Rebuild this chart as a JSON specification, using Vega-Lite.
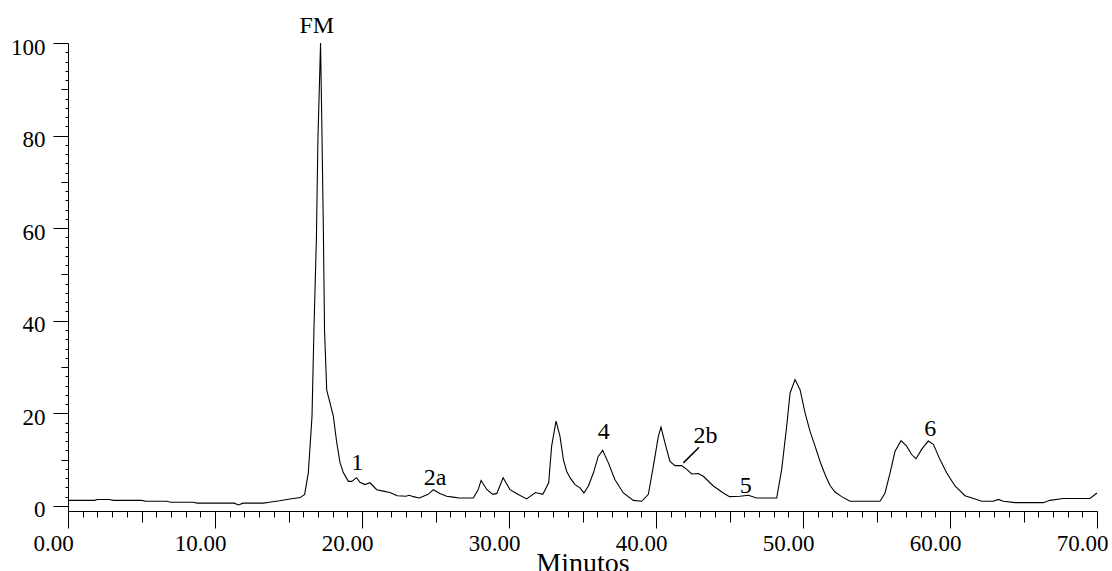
{
  "$schema": "https://vega.github.io/schema/vega-lite/v6.json",
  "width": 1029,
  "height": 468,
  "autosize": {"type": "none"},
  "padding": {"left": 68, "top": 43, "right": 15, "bottom": 60},
  "background": "white",
  "config": {
    "view": {"stroke": null},
    "axis": {
      "domainColor": "black", "tickColor": "black", "labelColor": "black", "titleColor": "black",
      "labelFont": "Liberation Serif", "titleFont": "Liberation Serif",
      "labelFontSize": 23, "titleFontSize": 28, "titleFontWeight": "normal",
      "grid": false, "domainWidth": 1, "tickWidth": 1, "labelFlush": false, "labelOverlap": false
    }
  },
  "datasets": {
    "trace": [
      {"t": 0, "v": 1.2}, {"t": 1.0, "v": 1.2}, {"t": 1.8, "v": 1.2}, {"t": 2.0, "v": 1.4}, {"t": 2.8, "v": 1.4},
      {"t": 3.1, "v": 1.2}, {"t": 5.0, "v": 1.2}, {"t": 5.3, "v": 1.0}, {"t": 6.7, "v": 1.0}, {"t": 7.0, "v": 0.8},
      {"t": 8.5, "v": 0.8}, {"t": 8.8, "v": 0.6}, {"t": 11.3, "v": 0.6}, {"t": 11.6, "v": 0.2}, {"t": 11.9, "v": 0.6},
      {"t": 13.3, "v": 0.6}, {"t": 13.7, "v": 0.8}, {"t": 14.4, "v": 1.1}, {"t": 15.1, "v": 1.5}, {"t": 15.8, "v": 1.8},
      {"t": 16.1, "v": 2.5}, {"t": 16.35, "v": 7.2}, {"t": 16.6, "v": 19.4}, {"t": 16.73, "v": 38}, {"t": 16.9, "v": 58},
      {"t": 17.0, "v": 79}, {"t": 17.18, "v": 100}, {"t": 17.25, "v": 86}, {"t": 17.37, "v": 60}, {"t": 17.45, "v": 38},
      {"t": 17.6, "v": 25}, {"t": 17.82, "v": 22.3}, {"t": 18.05, "v": 19.4}, {"t": 18.28, "v": 13.7}, {"t": 18.5, "v": 9.4},
      {"t": 18.73, "v": 7.2}, {"t": 19.07, "v": 5.3}, {"t": 19.3, "v": 5.3}, {"t": 19.63, "v": 6.1}, {"t": 19.86, "v": 5.1},
      {"t": 20.2, "v": 4.6}, {"t": 20.54, "v": 5.0}, {"t": 21.0, "v": 3.5}, {"t": 21.45, "v": 3.2}, {"t": 21.9, "v": 2.9},
      {"t": 22.4, "v": 2.2}, {"t": 23.0, "v": 2.1}, {"t": 23.2, "v": 2.3}, {"t": 23.5, "v": 2.0}, {"t": 23.9, "v": 1.7},
      {"t": 24.5, "v": 2.5}, {"t": 24.85, "v": 3.5}, {"t": 25.3, "v": 2.7}, {"t": 25.76, "v": 2.1}, {"t": 26.2, "v": 1.9},
      {"t": 26.6, "v": 1.7}, {"t": 27.57, "v": 1.7}, {"t": 27.9, "v": 3.5}, {"t": 28.1, "v": 5.5}, {"t": 28.5, "v": 3.5},
      {"t": 28.9, "v": 2.5}, {"t": 29.17, "v": 2.7}, {"t": 29.6, "v": 6.1}, {"t": 30.07, "v": 3.5}, {"t": 30.6, "v": 2.5},
      {"t": 31.2, "v": 1.5}, {"t": 31.8, "v": 2.9}, {"t": 32.3, "v": 2.5}, {"t": 32.7, "v": 5.0}, {"t": 32.9, "v": 12.9},
      {"t": 33.2, "v": 18.3}, {"t": 33.47, "v": 15}, {"t": 33.7, "v": 10.0}, {"t": 33.92, "v": 7.5}, {"t": 34.15, "v": 6.1},
      {"t": 34.49, "v": 4.6}, {"t": 34.83, "v": 3.9}, {"t": 35.1, "v": 2.8}, {"t": 35.4, "v": 4.3}, {"t": 35.74, "v": 7.1},
      {"t": 36.07, "v": 10.7}, {"t": 36.37, "v": 12.0}, {"t": 36.76, "v": 9.3}, {"t": 37.2, "v": 5.7}, {"t": 37.78, "v": 2.8},
      {"t": 38.46, "v": 1.2}, {"t": 39.03, "v": 1.0}, {"t": 39.48, "v": 2.5}, {"t": 39.82, "v": 8.6}, {"t": 40.16, "v": 15},
      {"t": 40.34, "v": 17.0}, {"t": 40.61, "v": 13.6}, {"t": 40.95, "v": 9.6}, {"t": 41.29, "v": 8.7}, {"t": 41.74, "v": 8.7},
      {"t": 42.09, "v": 7.9}, {"t": 42.43, "v": 6.9}, {"t": 42.88, "v": 7.0}, {"t": 43.22, "v": 6.4}, {"t": 43.9, "v": 4.3},
      {"t": 44.58, "v": 2.8}, {"t": 45.0, "v": 2.0}, {"t": 45.7, "v": 2.1}, {"t": 46.28, "v": 2.3}, {"t": 46.85, "v": 1.7},
      {"t": 48.21, "v": 1.7}, {"t": 48.55, "v": 7.9}, {"t": 48.89, "v": 17.2}, {"t": 49.12, "v": 24.4}, {"t": 49.46, "v": 27.3},
      {"t": 49.8, "v": 25.1}, {"t": 50.14, "v": 20.1}, {"t": 50.48, "v": 16.1}, {"t": 50.82, "v": 12.9}, {"t": 51.16, "v": 9.6},
      {"t": 51.5, "v": 6.8}, {"t": 51.84, "v": 4.4}, {"t": 52.18, "v": 3.0}, {"t": 52.63, "v": 2.0}, {"t": 53.2, "v": 1.0},
      {"t": 55.24, "v": 1.0}, {"t": 55.58, "v": 2.8}, {"t": 55.92, "v": 7.1}, {"t": 56.26, "v": 11.8}, {"t": 56.67, "v": 14.1},
      {"t": 57.05, "v": 12.9}, {"t": 57.39, "v": 11.1}, {"t": 57.69, "v": 10.2}, {"t": 58.07, "v": 12.2}, {"t": 58.52, "v": 14.0},
      {"t": 58.87, "v": 13.3}, {"t": 59.32, "v": 10.0}, {"t": 59.78, "v": 7.1}, {"t": 60.34, "v": 4.3}, {"t": 61.02, "v": 2.2},
      {"t": 61.6, "v": 1.6}, {"t": 62.16, "v": 1.0}, {"t": 62.95, "v": 1.0}, {"t": 63.29, "v": 1.4}, {"t": 63.63, "v": 1.0},
      {"t": 64.42, "v": 0.7}, {"t": 66.35, "v": 0.7}, {"t": 66.8, "v": 1.2}, {"t": 67.7, "v": 1.6}, {"t": 69.52, "v": 1.6},
      {"t": 70.0, "v": 2.8}
    ],
    "labels": [
      {"t": 16.92, "v": 102.1, "label": "FM"},
      {"t": 19.67, "v": 7.85, "label": "1"},
      {"t": 24.97, "v": 4.6, "label": "2a"},
      {"t": 36.45, "v": 14.5, "label": "4"},
      {"t": 43.37, "v": 13.6, "label": "2b"},
      {"t": 46.1, "v": 2.8, "label": "5"},
      {"t": 58.66, "v": 15.0, "label": "6"}
    ],
    "leader": [
      {"t": 41.86, "v": 9.3, "t2": 42.93, "v2": 12.67}
    ]
  },
  "layer": [
    {
      "data": {"name": "trace"},
      "mark": {"type": "line", "color": "black", "strokeWidth": 1.1, "interpolate": "linear"},
      "encoding": {
        "x": {"field": "t", "type": "quantitative",
          "scale": {"domain": [0, 70], "nice": false, "zero": false},
          "axis": {"orient": "bottom",
            "values": [0,1,2,3,4,5,6,7,8,9,10,11,12,13,14,15,16,17,18,19,20,21,22,23,24,25,26,27,28,29,30,31,32,33,34,35,36,37,38,39,40,41,42,43,44,45,46,47,48,49,50,51,52,53,54,55,56,57,58,59,60,61,62,63,64,65,66,67,68,69,70],
            "tickCount": 500,
            "format": ".2f",
            "labelExpr": "datum.value % 10 === 0 ? datum.label : ''",
            "tickSize": {"condition": [{"test": "datum.value % 10 === 0", "value": 17}, {"test": "datum.value % 5 === 0", "value": 11}], "value": 6},
            "labelPadding": 4,
            "labelOffset": -15, "title": "Minutos",
            "labelOverlap": false, "labelFlush": false, "labelBound": false,
            "labelFont": "Liberation Serif", "labelFontSize": 23, "labelColor": "black",
            "titleFont": "Liberation Serif", "titleFontSize": 28,
            "titleBaseline": "alphabetic", "titleY": 60}},
        "y": {"field": "v", "type": "quantitative",
          "scale": {"domain": [-1.1, 100], "nice": false, "zero": false},
          "axis": {"orient": "left",
            "values": [0,2,4,6,8,10,12,14,16,18,20,22,24,26,28,30,32,34,36,38,40,42,44,46,48,50,52,54,56,58,60,62,64,66,68,70,72,74,76,78,80,82,84,86,88,90,92,94,96,98,100],
            "tickCount": 500,
            "format": ".0f",
            "labelExpr": "datum.value % 20 === 0 ? datum.label : ''",
            "tickSize": {"condition": [{"test": "datum.value % 20 === 0", "value": 15}, {"test": "datum.value % 10 === 0", "value": 7}], "value": 3},
            "labelPadding": 8,
            "labelOverlap": false, "labelFlush": false, "labelBound": false,
            "labelFont": "Liberation Serif", "labelFontSize": 23, "labelColor": "black",
            "labelOffset": 4, "title": null}}
      }
    },
    {
      "data": {"name": "labels"},
      "mark": {"type": "text", "font": "Liberation Serif", "fontSize": 24, "color": "black",
        "align": "center", "baseline": "alphabetic"},
      "encoding": {
        "x": {"field": "t", "type": "quantitative"},
        "y": {"field": "v", "type": "quantitative"},
        "text": {"field": "label"}
      }
    },
    {
      "data": {"name": "leader"},
      "mark": {"type": "rule", "color": "black", "strokeWidth": 1.5},
      "encoding": {
        "x": {"field": "t", "type": "quantitative"},
        "x2": {"field": "t2"},
        "y": {"field": "v", "type": "quantitative"},
        "y2": {"field": "v2"}
      }
    }
  ]
}
